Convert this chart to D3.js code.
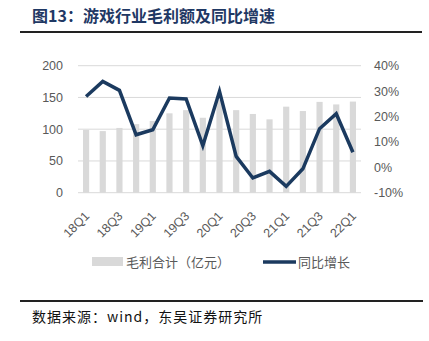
<!DOCTYPE html>
<html>
<head>
<meta charset="utf-8">
<script src="https://cdn.jsdelivr.net/npm/d3@7"></script>
<style>
  html, body { margin: 0; padding: 0; background: #fff; }
  svg { display: block; }
</style>
</head>
<body>
<svg id="chart" width="429" height="341"></svg>
<script>
// Quarterly categories
const quarters = ["18Q1","18Q2","18Q3","18Q4","19Q1","19Q2","19Q3","19Q4",
                  "20Q1","20Q2","20Q3","20Q4","21Q1","21Q2","21Q3","21Q4","22Q1"];
// Gross profit total (100 million CNY)
const grossProfit = [99, 97, 102, 108, 113, 125, 130, 118,
                     146, 130, 124, 115.5, 135.5, 128.6, 143, 139, 143.5];
// Year-on-year growth
const yoyGrowth = [0.279, 0.338, 0.303, 0.128, 0.148, 0.273, 0.269, 0.085,
                   0.299, 0.043, -0.042, -0.016, -0.075, -0.006, 0.152, 0.211, 0.059];
// Axis ticks
const leftTicks = [0, 50, 100, 150, 200];
const rightTicks = [-0.1, 0, 0.1, 0.2, 0.3, 0.4];
const xTickLabels = quarters.filter((d, i) => i % 2 === 0);

const titleText = "图13：游戏行业毛利额及同比增速";
const sourceText = "数据来源：wind，东吴证券研究所";
const legendBar = "毛利合计（亿元）";
const legendLine = "同比增长";

const navy = "#1b3a5f";
const barGray = "#d9d9d9";
const gridGray = "#d9d9d9";
const labelGray = "#595959";

const svg = d3.select("#chart");

const plot = { left: 78, right: 361, top: 65.7, bottom: 192.7 };

const x = d3.scaleBand().domain(quarters).range([plot.left, plot.right]).paddingInner(0.63).paddingOuter(0.3);
const yL = d3.scaleLinear().domain([0, 200]).range([plot.bottom, plot.top]);
const yR = d3.scaleLinear().domain([-0.1, 0.4]).range([plot.bottom, plot.top]);

// Title and rule
svg.append("text")
  .attr("x", 32).attr("y", 22)
  .attr("font-family", "'Noto Sans CJK SC', sans-serif")
  .attr("font-size", 16).attr("font-weight", "bold")
  .attr("fill", "#1f3864")
  .text(titleText);
svg.append("line")
  .attr("x1", 20).attr("x2", 422).attr("y1", 32).attr("y2", 32)
  .attr("stroke", "#222").attr("stroke-width", 2);

// Gridlines
svg.append("g").selectAll("line").data(leftTicks).join("line")
  .attr("x1", plot.left).attr("x2", plot.right)
  .attr("y1", d => yL(d)).attr("y2", d => yL(d))
  .attr("stroke", gridGray).attr("stroke-width", 1);

// Left axis
const leftAxis = svg.append("g")
  .attr("transform", `translate(${plot.left - 15},0)`)
  .call(d3.axisLeft(yL).tickValues(leftTicks).tickSize(0).tickPadding(0));
leftAxis.select(".domain").remove();
leftAxis.selectAll("text")
  .attr("font-family", "'Liberation Sans', Arial, sans-serif")
  .attr("font-size", 12.5).attr("fill", labelGray);

// Right axis
const rightAxis = svg.append("g")
  .attr("transform", `translate(${plot.right + 13},0)`)
  .call(d3.axisRight(yR).tickValues(rightTicks).tickSize(0).tickPadding(0)
    .tickFormat(d => Math.round(d * 100) + "%"));
rightAxis.select(".domain").remove();
rightAxis.selectAll("text")
  .attr("font-family", "'Liberation Sans', Arial, sans-serif")
  .attr("font-size", 12.5).attr("fill", labelGray);

// Bars
svg.append("g").selectAll("rect").data(quarters).join("rect")
  .attr("x", d => x(d))
  .attr("width", x.bandwidth())
  .attr("y", (d, i) => yL(grossProfit[i]))
  .attr("height", (d, i) => yL(0) - yL(grossProfit[i]))
  .attr("fill", barGray);

// Bottom axis (labels only)
const bottomAxis = svg.append("g")
  .attr("transform", `translate(0,${plot.bottom})`)
  .call(d3.axisBottom(x).tickValues(xTickLabels).tickSize(0).tickPadding(0));
bottomAxis.select(".domain").remove();
bottomAxis.selectAll("text")
  .attr("font-family", "'Liberation Sans', Arial, sans-serif")
  .attr("font-size", 12.5).attr("fill", labelGray)
  .attr("text-anchor", "end")
  .attr("dy", 0)
  .attr("transform", "translate(4,24) rotate(-45)");

// YoY line
const line = d3.line()
  .x((d, i) => x(quarters[i]) + x.bandwidth() / 2)
  .y(d => yR(d));
svg.append("path")
  .datum(yoyGrowth)
  .attr("d", line)
  .attr("fill", "none")
  .attr("stroke", navy)
  .attr("stroke-width", 3.5)
  .attr("stroke-linejoin", "miter");

// Legend
const lg = svg.append("g")
  .attr("font-family", "'Noto Sans CJK SC', sans-serif")
  .attr("font-size", 13).attr("fill", labelGray);
lg.append("rect").attr("x", 92).attr("y", 257).attr("width", 31).attr("height", 9).attr("fill", barGray);
lg.append("text").attr("x", 126).attr("y", 266.5).text(legendBar);
lg.append("line").attr("x1", 263).attr("x2", 296).attr("y1", 262).attr("y2", 262)
  .attr("stroke", navy).attr("stroke-width", 3.5);
lg.append("text").attr("x", 298).attr("y", 266.5).text(legendLine);

// Source rule and note
svg.append("line")
  .attr("x1", 20).attr("x2", 423).attr("y1", 301).attr("y2", 301)
  .attr("stroke", "#222").attr("stroke-width", 2);
svg.append("text")
  .attr("x", 32).attr("y", 322)
  .attr("font-family", "'Noto Sans CJK SC', sans-serif")
  .attr("font-size", 14).attr("letter-spacing", 1).attr("fill", "#111")
  .text(sourceText);
</script>
</body>
</html>
